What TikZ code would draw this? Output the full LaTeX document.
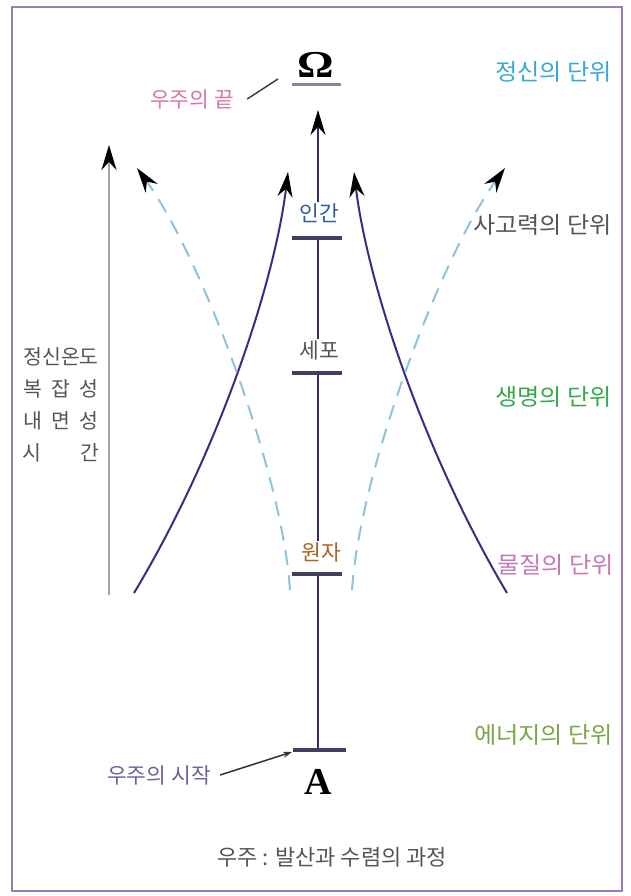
\documentclass[tikz,border=0pt]{standalone}
\usepackage{fontspec}
\usepackage{graphicx}
\newfontfamily\kr{Noto Sans CJK KR}
\newfontfamily\krwide[FakeStretch=1.05]{Noto Sans CJK KR}
\newfontfamily\lserif{Liberation Serif}
\usetikzlibrary{arrows.meta}
\definecolor{framepurple}{HTML}{9C7DBB}
\definecolor{axisblue}{HTML}{33287A}
\definecolor{tickgray}{HTML}{3F3F5F}
\definecolor{curvepurple}{HTML}{3A2C85}
\definecolor{dashblue}{HTML}{8EC3DF}
\definecolor{omline}{HTML}{8585A8}
\definecolor{grayline}{HTML}{A3A3A3}
\definecolor{mindblue}{HTML}{3BA7D6}
\definecolor{textgray}{HTML}{555555}
\definecolor{lifegreen}{HTML}{35A84A}
\definecolor{matterpink}{HTML}{C479B5}
\definecolor{energygreen}{HTML}{7BA648}
\definecolor{endpink}{HTML}{D678A8}
\definecolor{startpurple}{HTML}{6E62A0}
\definecolor{humanblue}{HTML}{2E5D9E}
\definecolor{atombrown}{HTML}{A86420}

\begin{document}
\begin{tikzpicture}[
  x=1pt, y=-1pt,
  lbl/.style={font=\kr\fontsize{21.5}{25}\selectfont, inner sep=1pt},
  unit/.style={font=\krwide\fontsize{23}{27}\selectfont, anchor=east, inner sep=0pt},
  letter/.style={font=\lserif\bfseries\fontsize{38}{38}\selectfont, inner sep=0pt},
  tick/.style={line width=3.5pt, tickgray},
  axis/.style={line width=2pt, axisblue},
  curve/.style={line width=2pt, curvepurple},
  dashcurve/.style={line width=2pt, dashblue, dash pattern=on 15pt off 10pt},
  arrow/.style={-{Stealth[length=25pt, width=15pt, color=black]}},
  pointer/.style={-{Stealth[length=9pt, width=6pt]}, line width=1.5pt, black!80},
]
  \useasboundingbox (0,0) rectangle (630,896);
  \draw[line width=2pt, framepurple] (12,7) rectangle (622,891);

  \node[letter] (omega) at (316,65) {\scalebox{1.2}[1]{Ω}};
  \draw[line width=3pt, omline] (292,85) -- (341,85);
  \node[lbl, endpink] (endlabel) at (192,99) {우주의 끝};
  \coordinate (omtail) at (278,79);
  \draw[line width=1.5pt, black!75] ([xshift=12pt]endlabel.east) -- (omtail);

  \node[lbl, humanblue] (human) at (319,213) {인간};
  \node[lbl, textgray] (cell) at (319,350) {세포};
  \node[lbl, atombrown] (atom) at (321,552) {원자};
  \node[letter] (origin) at (318,782) {A};
  \node[lbl, startpurple] (startlabel) at (159,775) {우주의 시작};

  \coordinate (top) at (318,110);
  \coordinate (th) at (318,238);
  \coordinate (tc) at (318,373);
  \coordinate (ta) at (318,574);
  \coordinate (to) at (318,750);
  \coordinate (tow) at (292,752);

  \draw[axis] (to) -- (ta);
  \draw[axis] (tc) -- (atom.north -| tc);
  \draw[axis] (th) -- (cell.north -| th);
  \draw[axis, arrow] (human.north -| top) -- (top);
  \foreach \t in {th, tc, ta}
    \draw[tick] ([xshift=-26pt]\t) -- ([xshift=24pt]\t);
  \draw[tick] ([xshift=-25pt]to) -- ([xshift=28pt]to);
  \draw[pointer] ([xshift=8pt]startlabel.east) -- (tow);

  \coordinate (lb) at (134,593);
  \coordinate (lt) at (288,172);
  \coordinate (rb) at (507,593);
  \coordinate (rt) at (354,172);
  \draw[curve, arrow] (lb) .. controls (220,450) and (275,280) .. (lt);
  \draw[curve, arrow] (rb) .. controls (422,450) and (367,280) .. (rt);

  \coordinate (dlb) at (290,590);
  \coordinate (dlt) at (137,168);
  \coordinate (drb) at (352,590);
  \coordinate (drt) at (505,168);
  \draw[dashcurve, arrow] (dlb) .. controls (282,470) and (200,255) .. (dlt);
  \draw[dashcurve, arrow] (drb) .. controls (360,470) and (442,255) .. (drt);

  \coordinate (g0) at (109,595);
  \coordinate (g1) at (109,145);
  \draw[line width=2pt, grayline, arrow] (g0) -- (g1);
  \node[font=\kr\fontsize{20.5}{32}\selectfont, textgray, align=center] (sidetext) at (61,405)
    {정신온도\\복\hspace{0.45em}잡\hspace{0.45em}성\\내\hspace{0.45em}면\hspace{0.45em}성\\시\hspace{1.9em}간};

  \node[unit, mindblue] (mindunit) at (612,72) {정신의 단위};
  \node[unit, textgray] (thoughtunit) at (612,225) {사고력의 단위};
  \node[unit, lifegreen] (lifeunit) at (612,397) {생명의 단위};
  \node[unit, matterpink] (matterunit) at (614,565) {물질의 단위};
  \node[unit, energygreen] (energyunit) at (613,735) {에너지의 단위};

  \node[font=\kr\fontsize{22}{26}\selectfont, textgray] (caption) at (332,857) {우주 : 발산과 수렴의 과정};
\end{tikzpicture}
\end{document}
